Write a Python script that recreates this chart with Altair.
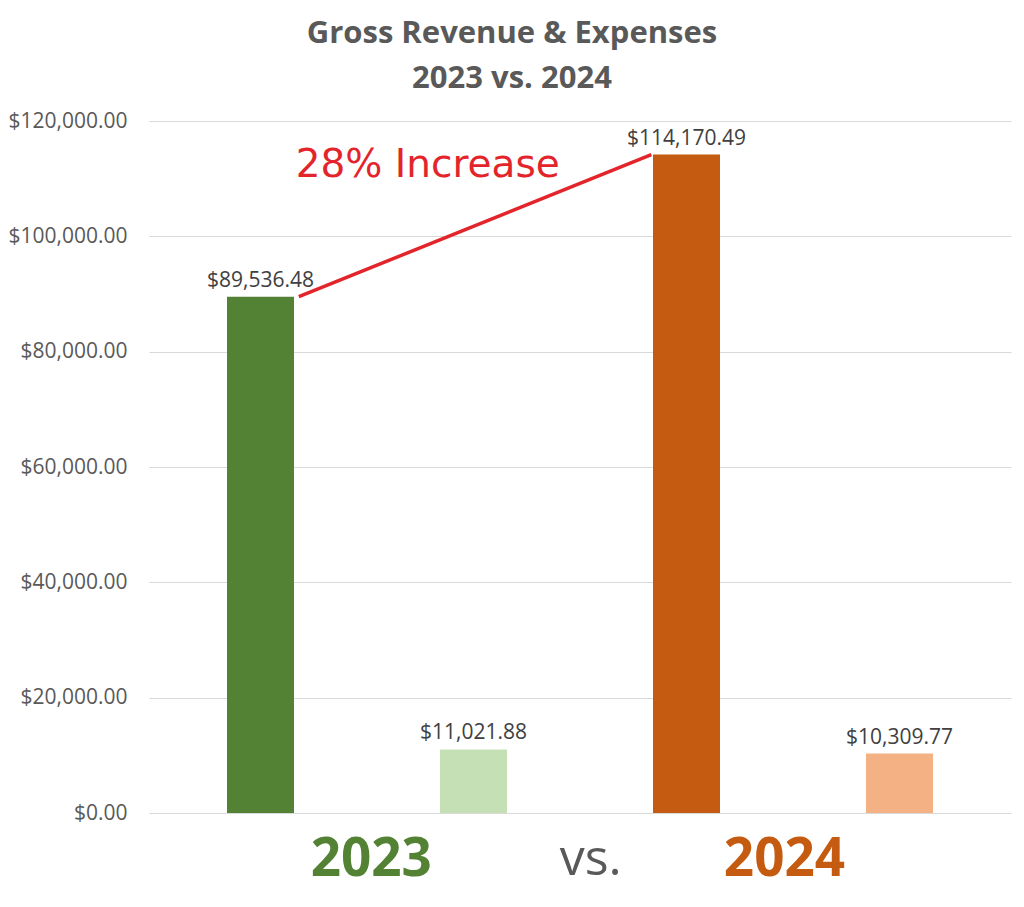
import altair as alt
import pandas as pd

# Data
categories = ["Revenue 2023", "Expenses 2023", "Revenue 2024", "Expenses 2024"]
values = [89536.48, 11021.88, 114170.49, 10309.77]
slots = [0.5, 1.5, 2.5, 3.5]
colors = ["#548235", "#c5e0b4", "#c55a11", "#f4b183"]
value_labels = ["$89,536.48", "$11,021.88", "$114,170.49", "$10,309.77"]

group_texts = ["2023", "vs.", "2024"]
group_slots = [1.02, 2.05, 2.96]
group_colors = ["#548235", "#595959", "#c55a11"]
group_weights = ["bold", "normal", "bold"]
group_sizes = [53, 50, 53]

y_ticks = [0, 20000, 40000, 60000, 80000, 100000, 120000]

bars_df = pd.DataFrame({"cat": categories, "value": values, "slot": slots,
                        "color": colors, "label": value_labels})

x_scale = alt.Scale(domain=[0, 4], nice=False, zero=False)
y_scale = alt.Scale(domain=[0, 120000], nice=False)

base = alt.Chart(bars_df)

bars = base.mark_bar(size=67).encode(
    x=alt.X("slot:Q", scale=x_scale, axis=None),
    y=alt.Y("value:Q", scale=y_scale,
            axis=alt.Axis(values=y_ticks, domain=False, ticks=False,
                          gridColor="#d9d9d9", gridWidth=1,
                          labelFontSize=21, labelColor="#595959",
                          labelFont="Open Sans", labelPadding=22,
                          labelExpr="'$' + format(datum.value, ',.2f')",
                          title=None)),
    color=alt.Color("color:N", scale=None),
)

labels = base.mark_text(dy=-6, fontSize=21, font="Open Sans",
                        color="#404040", baseline="bottom").encode(
    x=alt.X("slot:Q", scale=x_scale),
    y=alt.Y("value:Q", scale=y_scale),
    text="label:N",
)

# Increase connector line between the two revenue bars
line_df = pd.DataFrame({"x": [0.68, 2.335], "y": [values[0], values[2]]})
conn = alt.Chart(line_df).mark_line(color="#e3242b", strokeWidth=3.5).encode(
    x=alt.X("x:Q", scale=x_scale),
    y=alt.Y("y:Q", scale=y_scale),
)

pct = round((values[2] - values[0]) / values[0] * 100)
inc_df = pd.DataFrame({"x": [1.285], "y": [112300], "t": [f"{pct}% Increase"]})
inc = alt.Chart(inc_df).mark_text(color="#e3242b", fontSize=39,
                                  font="DejaVu Sans", baseline="middle").encode(
    x=alt.X("x:Q", scale=x_scale),
    y=alt.Y("y:Q", scale=y_scale),
    text="t:N",
)

grp_df = pd.DataFrame({"t": group_texts, "x": group_slots,
                       "y": [-8200, -8200, -8200]})
grp_layers = []
for i in range(len(group_texts)):
    grp_layers.append(
        alt.Chart(grp_df.iloc[[i]]).mark_text(
            font="Open Sans", fontWeight=group_weights[i],
            fontSize=group_sizes[i], color=group_colors[i],
            baseline="middle").encode(
            x=alt.X("x:Q", scale=x_scale),
            y=alt.Y("y:Q", scale=y_scale),
            text="t:N",
        )
    )

chart = alt.layer(bars, labels, conn, inc, *grp_layers).properties(
    width=862, height=692,
    title=alt.TitleParams(
        text=["Gross Revenue & Expenses", "2023 vs. 2024"],
        fontSize=31, font="Open Sans", fontWeight="bold", color="#595959",
        anchor="middle", dx=-68, offset=15, lineHeight=45,
    ),
    autosize=alt.AutoSizeParams(type="none"),
    padding={"left": 141, "top": 113, "right": 5, "bottom": 86},
).configure_view(stroke=None)

chart.save("out.html", embed_options={"renderer": "svg", "actions": False})
